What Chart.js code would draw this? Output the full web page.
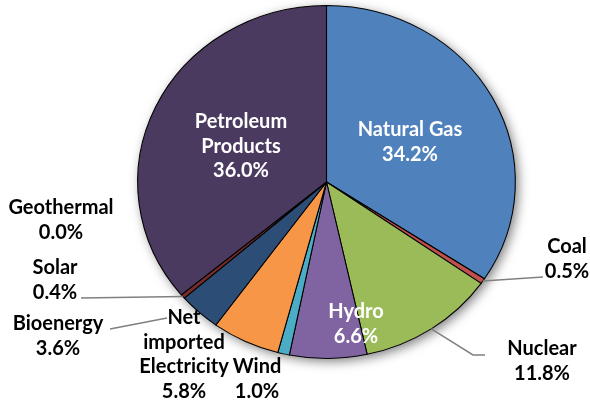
<!DOCTYPE html>
<html><head><meta charset="utf-8">
<script src="https://cdn.jsdelivr.net/npm/chart.js@4.4.1/dist/chart.umd.min.js"></script>
<style>html,body{margin:0;padding:0;background:#fff;}canvas{display:block}</style>
</head><body>
<canvas id="c" width="590" height="406"></canvas>
<script>
const categories = ['Natural Gas','Coal','Nuclear','Hydro','Wind','Net imported Electricity','Bioenergy','Solar','Geothermal','Petroleum Products'];
const shares = [34.2, 0.5, 11.8, 6.6, 1.0, 5.8, 3.6, 0.4, 0.0, 36.0];
const colors = ['#4F81BD','#C0504D','#9BBB59','#8064A2','#4BACC6','#F79646','#2C4D75','#772C2A','#5F7530','#4B3A5F'];
const nameLines = [['Natural Gas'],['Coal'],['Nuclear'],['Hydro'],['Wind'],['Net','imported','Electricity'],['Bioenergy'],['Solar'],['Geothermal'],['Petroleum','Products']];

// label layout (annotation positions, not data)
const labelLayout = [
  {x:410, y:130, color:'#fff'},
  {x:567, y:247, color:'#000', leader:[[543,277]]},
  {x:542, y:349, color:'#000', leader:[[473,355],[485,355]]},
  {x:356, y:312, color:'#fff'},
  {x:257, y:367, color:'#000'},
  {x:184, y:318, color:'#000'},
  {x:58,  y:324, color:'#000', fixedLeader:[[110,329],[167,318]]},
  {x:55,  y:268, color:'#000', leader:[[81,298]]},
  {x:61,  y:208, color:'#000'},
  {x:241, y:122, color:'#fff'}
];
const SX = 1.07;
const FONT = 'bold 20px Lato';
const LH = 24.5;

const ellipsePlugin = {
  id: 'ellipse',
  beforeDatasetsDraw(chart) {
    const ctx = chart.ctx;
    const a = chart.getDatasetMeta(0).data[0];
    const cx = a.x, cy = a.y, r = a.outerRadius;
    ctx.save();
    ctx.translate(cx, cy); ctx.scale(SX, 1); ctx.translate(-cx, -cy);
    ctx.save();
    ctx.shadowColor = 'rgba(0,0,0,0.5)';
    ctx.shadowBlur = 11; ctx.shadowOffsetX = 3; ctx.shadowOffsetY = 3;
    ctx.beginPath(); ctx.arc(cx, cy, r, 0, Math.PI * 2);
    ctx.fillStyle = '#fff'; ctx.fill();
    ctx.restore();
  },
  afterDatasetsDraw(chart) { chart.ctx.restore(); }
};

const labelPlugin = {
  id: 'labels',
  afterDraw(chart) {
    const ctx = chart.ctx;
    const arcs = chart.getDatasetMeta(0).data;
    ctx.save();
    ctx.strokeStyle = '#808080'; ctx.lineWidth = 1.5;
    labelLayout.forEach((L, i) => {
      const a = arcs[i];
      if (L.leader) {
        const mid = (a.startAngle + a.endAngle) / 2;
        const px = a.x + Math.cos(mid) * a.outerRadius * SX;
        const py = a.y + Math.sin(mid) * a.outerRadius;
        ctx.beginPath(); ctx.moveTo(px, py);
        L.leader.forEach(p => ctx.lineTo(p[0], p[1]));
        ctx.stroke();
      }
      if (L.fixedLeader) {
        ctx.beginPath(); ctx.moveTo(L.fixedLeader[0][0], L.fixedLeader[0][1]);
        L.fixedLeader.slice(1).forEach(p => ctx.lineTo(p[0], p[1]));
        ctx.stroke();
      }
    });
    ctx.font = FONT; ctx.textAlign = 'center'; ctx.textBaseline = 'middle';
    labelLayout.forEach((L, i) => {
      const lines = nameLines[i].concat([shares[i].toFixed(1) + '%']);
      ctx.fillStyle = L.color;
      lines.forEach((t, k) => ctx.fillText(t, L.x, L.y + k * LH));
    });
    ctx.restore();
  }
};

function draw() {
  new Chart(document.getElementById('c'), {
    type: 'pie',
    data: {
      labels: categories,
      datasets: [{ data: shares, backgroundColor: colors, borderColor: '#000', borderWidth: 1 }]
    },
    options: {
      responsive: false,
      animation: false,
      devicePixelRatio: 1,
      layout: { padding: { left: 149.5, right: 86.5, top: 5, bottom: 47 } },
      plugins: { legend: { display: false }, tooltip: { enabled: false } }
    },
    plugins: [ellipsePlugin, labelPlugin]
  });
}
document.fonts.load(FONT).then(draw, draw);
</script>
</body></html>
